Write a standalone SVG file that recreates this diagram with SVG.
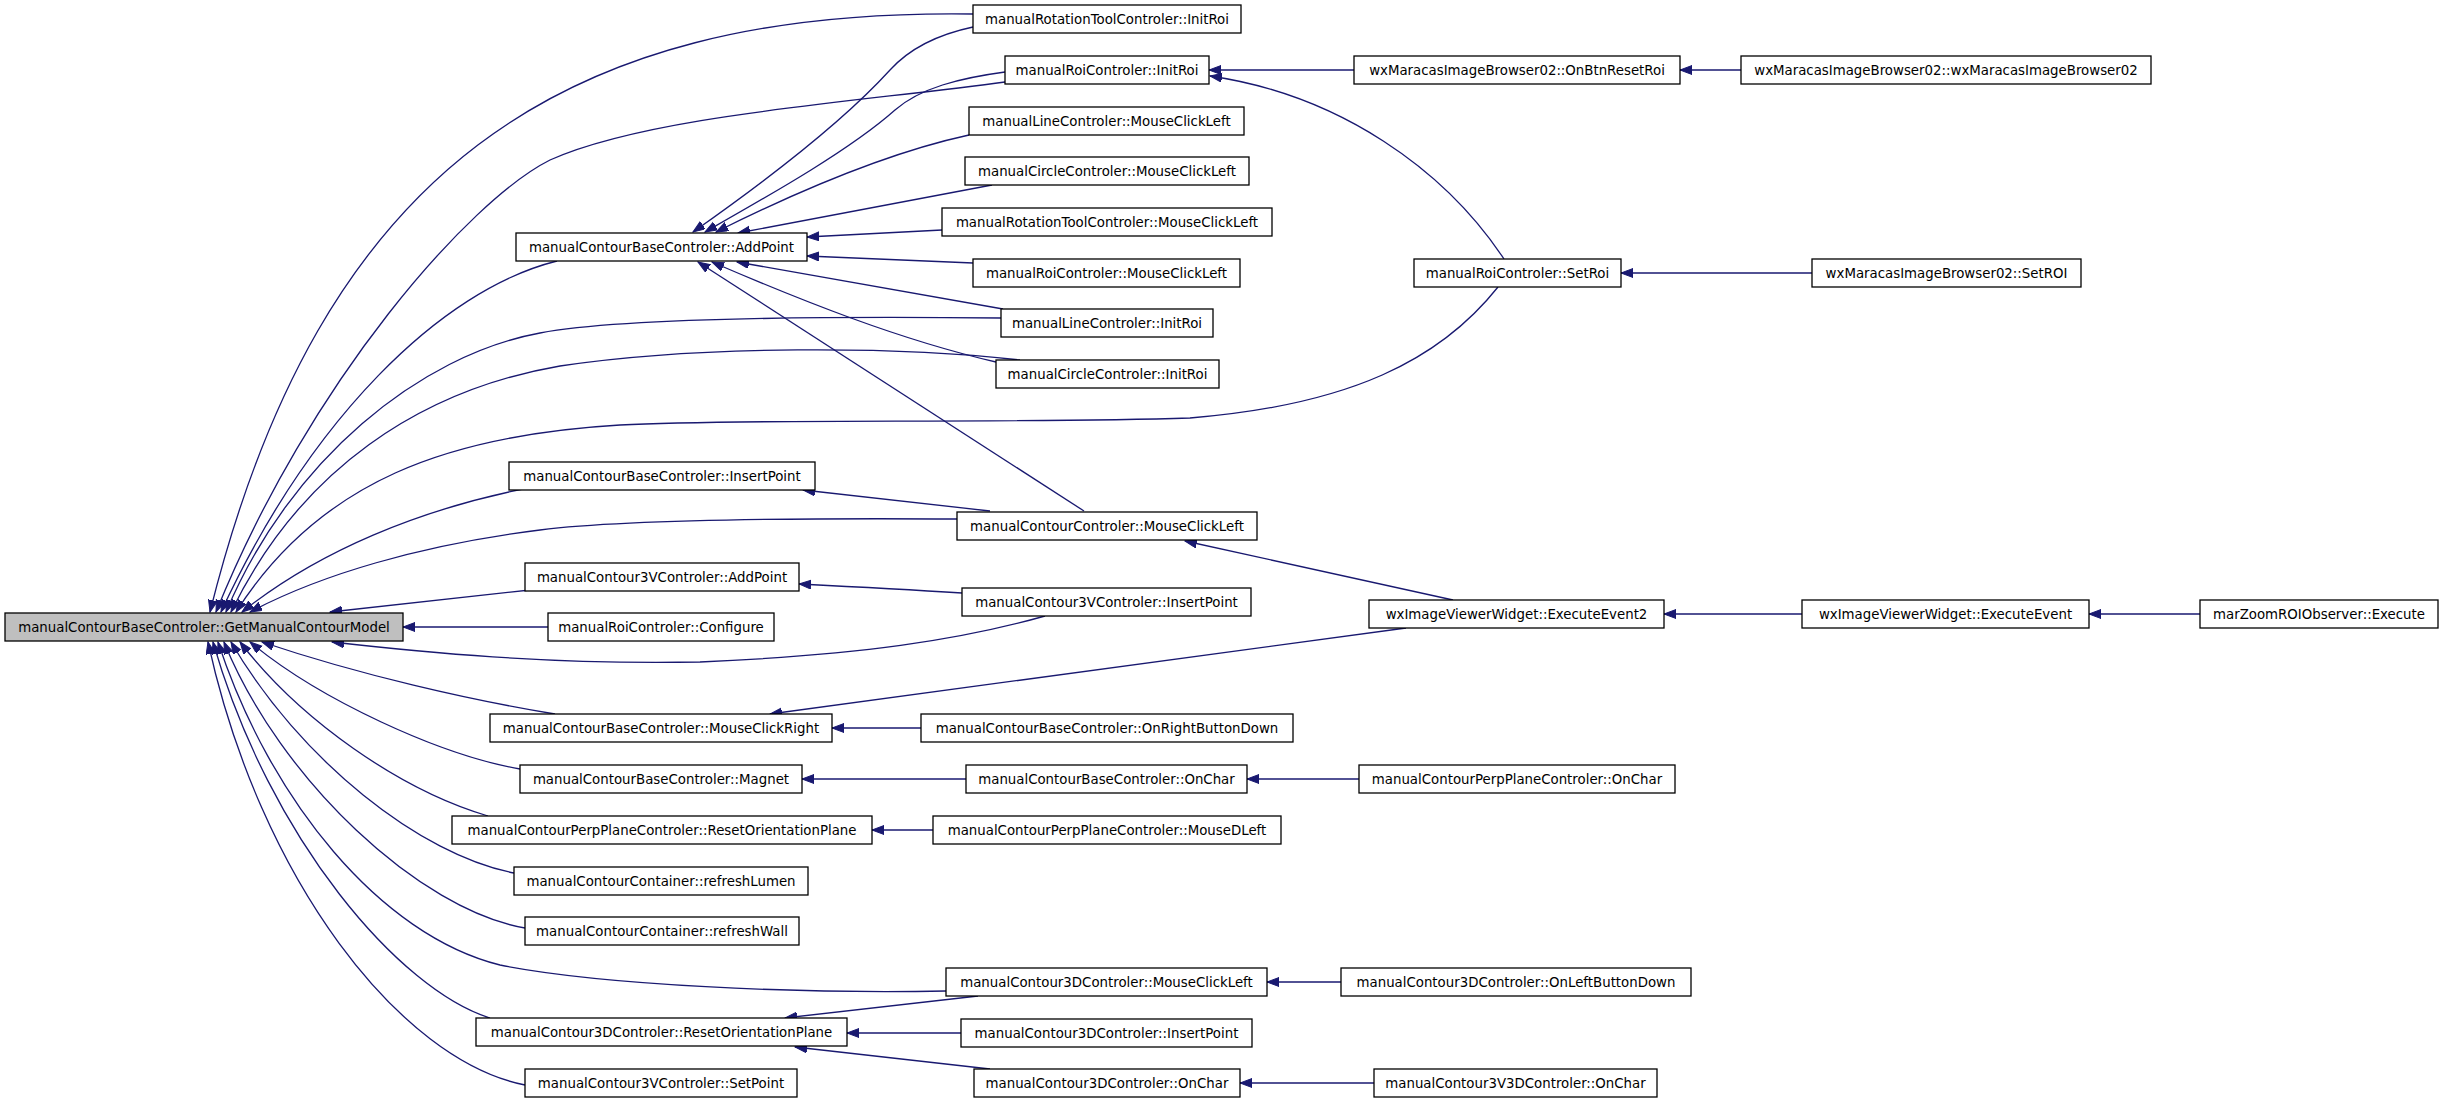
<svg xmlns="http://www.w3.org/2000/svg" width="2443" height="1101" viewBox="0 0 2443 1101">
<style>
.n rect{fill:#ffffff;stroke:#000000;stroke-width:1.3}
.n text{font-family:"DejaVu Sans",sans-serif;font-size:13.33px;text-anchor:middle;fill:#000000}
#n0 rect{fill:#bfbfbf}
.e path{fill:none;stroke:#191970;stroke-width:1.3;marker-end:url(#ah)}
</style>
<defs>
<marker id="ah" markerUnits="userSpaceOnUse" markerWidth="13" markerHeight="10" refX="12" refY="4.5" orient="auto">
<path d="M0,0 L12,4.5 L0,9 z" fill="#191970" stroke="#191970" stroke-width="1"/>
</marker>
</defs>
<rect width="2443" height="1101" fill="#ffffff"/>
<g class="e" id="edges">
<path d="M973,14 C560,8 320,170 210,612"/>
<path d="M1005,82 C860,102 650,115 550,160 C470,200 310,380 216,612"/>
<path d="M557,261 C440,290 310,420 221,612"/>
<path d="M1001,318 C800,316 620,318 540,333 C420,355 290,460 226,612"/>
<path d="M1020,360 C900,346 700,345 560,366 C420,390 300,470 231,612"/>
<path d="M1498,287 C1440,360 1350,405 1190,418 C1000,424 750,418 620,425 C450,435 320,480 236,612"/>
<path d="M523,489 C420,510 320,550 242,612"/>
<path d="M957,519 C800,518 620,520 540,530 C420,545 320,575 250,612"/>
<path d="M530,590 L330,612"/>
<path d="M548,627 L403,627"/>
<path d="M1045,616 C960,640 860,655 700,662 C550,665 420,652 332,642"/>
<path d="M555,714 C470,700 360,675 262,642"/>
<path d="M520,769 C440,755 320,700 250,642"/>
<path d="M488,816 C400,790 300,720 240,642"/>
<path d="M514,873 C420,855 300,760 231,642"/>
<path d="M525,928 C420,910 280,780 224,642"/>
<path d="M946,991 C800,994 600,985 500,965 C380,935 270,800 218,642"/>
<path d="M490,1018 C400,990 270,840 213,642"/>
<path d="M525,1085 C400,1060 260,880 208,642"/>
<path d="M973,27 C940,34 910,48 890,70 C840,125 760,185 693,232"/>
<path d="M1005,72 C960,78 920,88 895,110 C850,150 770,195 705,232"/>
<path d="M969,135 C900,150 820,180 716,232"/>
<path d="M992,185 L738,233"/>
<path d="M942,230 L807,237"/>
<path d="M973,263 L807,256"/>
<path d="M1003,309 L737,262"/>
<path d="M996,362 C900,340 800,300 712,262"/>
<path d="M1084,511 L698,262"/>
<path d="M990,511 L803,490"/>
<path d="M962,593 C900,589 860,587 799,584"/>
<path d="M1453,600 L1185,541"/>
<path d="M1406,628 L770,714"/>
<path d="M921,728 L832,728"/>
<path d="M966,779 L802,779"/>
<path d="M1359,779 L1247,779"/>
<path d="M933,830 L872,830"/>
<path d="M978,996 L785,1018"/>
<path d="M961,1033 L847,1033"/>
<path d="M990,1069 L795,1047"/>
<path d="M1341,982 L1267,982"/>
<path d="M1374,1083 L1240,1083"/>
<path d="M1354,70 L1209,70"/>
<path d="M1741,70 L1680,70"/>
<path d="M1504,259 C1445,170 1340,95 1210,76"/>
<path d="M1812,273 L1621,273"/>
<path d="M1802,614 L1664,614"/>
<path d="M2200,614 L2089,614"/>
</g>
<g class="n" id="n0"><rect x="5" y="613" width="398" height="28"/><text x="204" y="632">manualContourBaseControler::GetManualContourModel</text></g>
<g class="n" id="n1"><rect x="516" y="233" width="291" height="28"/><text x="661.5" y="252">manualContourBaseControler::AddPoint</text></g>
<g class="n" id="n2"><rect x="509" y="462" width="306" height="28"/><text x="662" y="481">manualContourBaseControler::InsertPoint</text></g>
<g class="n" id="n3"><rect x="525" y="563" width="274" height="28"/><text x="662" y="582">manualContour3VControler::AddPoint</text></g>
<g class="n" id="n4"><rect x="548" y="613" width="226" height="28"/><text x="661" y="632">manualRoiControler::Configure</text></g>
<g class="n" id="n5"><rect x="490" y="714" width="342" height="28"/><text x="661" y="733">manualContourBaseControler::MouseClickRight</text></g>
<g class="n" id="n6"><rect x="520" y="765" width="282" height="28"/><text x="661" y="784">manualContourBaseControler::Magnet</text></g>
<g class="n" id="n7"><rect x="452" y="816" width="420" height="28"/><text x="662" y="835">manualContourPerpPlaneControler::ResetOrientationPlane</text></g>
<g class="n" id="n8"><rect x="514" y="867" width="294" height="28"/><text x="661" y="886">manualContourContainer::refreshLumen</text></g>
<g class="n" id="n9"><rect x="525" y="917" width="274" height="28"/><text x="662" y="936">manualContourContainer::refreshWall</text></g>
<g class="n" id="n10"><rect x="476" y="1018" width="371" height="28"/><text x="661.5" y="1037">manualContour3DControler::ResetOrientationPlane</text></g>
<g class="n" id="n11"><rect x="525" y="1069" width="272" height="28"/><text x="661" y="1088">manualContour3VControler::SetPoint</text></g>
<g class="n" id="n12"><rect x="973" y="5" width="268" height="28"/><text x="1107" y="24">manualRotationToolControler::InitRoi</text></g>
<g class="n" id="n13"><rect x="1005" y="56" width="204" height="28"/><text x="1107" y="75">manualRoiControler::InitRoi</text></g>
<g class="n" id="n14"><rect x="969" y="107" width="275" height="28"/><text x="1106.5" y="126">manualLineControler::MouseClickLeft</text></g>
<g class="n" id="n15"><rect x="965" y="157" width="284" height="28"/><text x="1107" y="176">manualCircleControler::MouseClickLeft</text></g>
<g class="n" id="n16"><rect x="942" y="208" width="330" height="28"/><text x="1107" y="227">manualRotationToolControler::MouseClickLeft</text></g>
<g class="n" id="n17"><rect x="973" y="259" width="267" height="28"/><text x="1106.5" y="278">manualRoiControler::MouseClickLeft</text></g>
<g class="n" id="n18"><rect x="1001" y="309" width="212" height="28"/><text x="1107" y="328">manualLineControler::InitRoi</text></g>
<g class="n" id="n19"><rect x="996" y="360" width="223" height="28"/><text x="1107.5" y="379">manualCircleControler::InitRoi</text></g>
<g class="n" id="n20"><rect x="957" y="512" width="300" height="28"/><text x="1107" y="531">manualContourControler::MouseClickLeft</text></g>
<g class="n" id="n21"><rect x="962" y="588" width="289" height="28"/><text x="1106.5" y="607">manualContour3VControler::InsertPoint</text></g>
<g class="n" id="n22"><rect x="921" y="714" width="372" height="28"/><text x="1107" y="733">manualContourBaseControler::OnRightButtonDown</text></g>
<g class="n" id="n23"><rect x="966" y="765" width="281" height="28"/><text x="1106.5" y="784">manualContourBaseControler::OnChar</text></g>
<g class="n" id="n24"><rect x="933" y="816" width="348" height="28"/><text x="1107" y="835">manualContourPerpPlaneControler::MouseDLeft</text></g>
<g class="n" id="n25"><rect x="946" y="968" width="321" height="28"/><text x="1106.5" y="987">manualContour3DControler::MouseClickLeft</text></g>
<g class="n" id="n26"><rect x="961" y="1019" width="291" height="28"/><text x="1106.5" y="1038">manualContour3DControler::InsertPoint</text></g>
<g class="n" id="n27"><rect x="974" y="1069" width="266" height="28"/><text x="1107" y="1088">manualContour3DControler::OnChar</text></g>
<g class="n" id="n28"><rect x="1354" y="56" width="326" height="28"/><text x="1517" y="75">wxMaracasImageBrowser02::OnBtnResetRoi</text></g>
<g class="n" id="n29"><rect x="1741" y="56" width="410" height="28"/><text x="1946" y="75">wxMaracasImageBrowser02::wxMaracasImageBrowser02</text></g>
<g class="n" id="n30"><rect x="1414" y="259" width="207" height="28"/><text x="1517.5" y="278">manualRoiControler::SetRoi</text></g>
<g class="n" id="n31"><rect x="1812" y="259" width="269" height="28"/><text x="1946.5" y="278">wxMaracasImageBrowser02::SetROI</text></g>
<g class="n" id="n32"><rect x="1369" y="600" width="295" height="28"/><text x="1516.5" y="619">wxImageViewerWidget::ExecuteEvent2</text></g>
<g class="n" id="n33"><rect x="1802" y="600" width="287" height="28"/><text x="1945.5" y="619">wxImageViewerWidget::ExecuteEvent</text></g>
<g class="n" id="n34"><rect x="2200" y="600" width="238" height="28"/><text x="2319" y="619">marZoomROIObserver::Execute</text></g>
<g class="n" id="n35"><rect x="1359" y="765" width="316" height="28"/><text x="1517" y="784">manualContourPerpPlaneControler::OnChar</text></g>
<g class="n" id="n36"><rect x="1341" y="968" width="350" height="28"/><text x="1516" y="987">manualContour3DControler::OnLeftButtonDown</text></g>
<g class="n" id="n37"><rect x="1374" y="1069" width="283" height="28"/><text x="1515.5" y="1088">manualContour3V3DControler::OnChar</text></g>
</svg>
